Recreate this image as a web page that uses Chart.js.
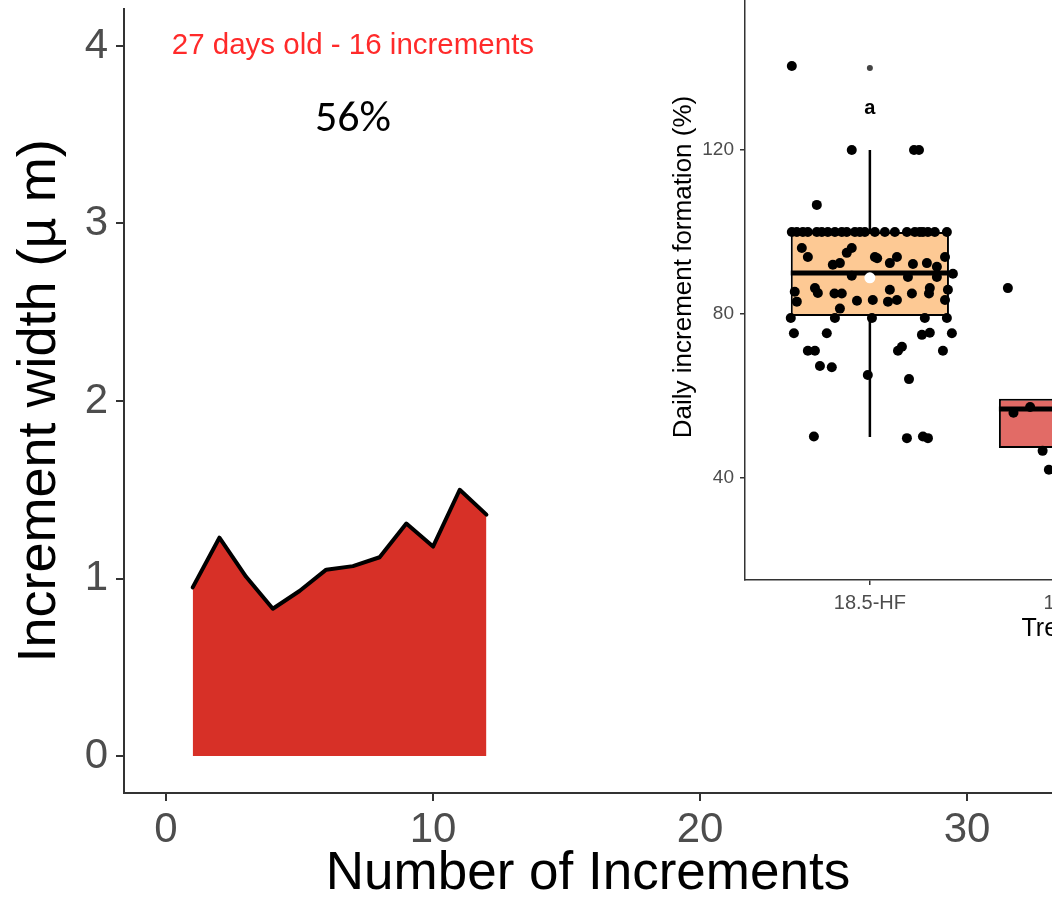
<!DOCTYPE html>
<html>
<head>
<meta charset="utf-8">
<script src="https://cdn.jsdelivr.net/npm/chart.js@4.4.1/dist/chart.umd.min.js"></script>
<style>
  html, body { margin: 0; padding: 0; overflow: hidden; background: #fff; }
  #stage { position: relative; width: 1052px; height: 901px; overflow: hidden; background: #fff; }
  #main { position: absolute; left: 0; top: 0; }
  #inset { position: absolute; left: 620px; top: -60px; }
</style>
</head>
<body>
<div id="stage">
  <canvas id="main" width="1052" height="901"></canvas>
  <canvas id="inset" width="840" height="720"></canvas>
</div>
<script>
// ---- Increment width profile ----
const increments = [1, 2, 3, 4, 5, 6, 7, 8, 9, 10, 11, 12];
const incrementWidth = [0.95, 1.23, 1.01, 0.83, 0.93, 1.05, 1.07, 1.12, 1.31, 1.18, 1.50, 1.36];
const mainXTicks = [0, 10, 20, 30];
const mainYTicks = [0, 1, 2, 3, 4];
const noteTexts = ['27 days old - 16 increments', '56%'];
const noteX = [7, 7];
const noteY = [4, 3.58];

// ---- Daily increment formation by treatment ----
const treatments = ['18.5-HF', '18.5-LF'];
const treatmentLevels = 3;
const boxQ1 = [79.5, 47.3];
const boxMedian = [90, 56.8];
const boxQ3 = [100, 59.3];
const whiskerLow = [50, 42];
const whiskerHigh = [120, 59.3];
const boxMean = [88.8, null];
const outlierValues = [[140], []];
const insetYTicks = [40, 80, 120, 160];
const groupLetters = ['a'];
const letterY = [130];

const hfX = [0.625, 0.913, 1.212, 1.236, 0.745,
  0.625, 0.649, 0.678, 0.702, 0.745, 0.769, 0.798, 0.832, 0.865, 0.889, 0.928, 0.952,
  0.976, 1.024, 1.072, 1.12, 1.178, 1.216, 1.24, 1.255, 1.279, 1.312, 1.37,
  0.673, 0.702, 0.822, 0.856, 0.889, 0.913, 1.024, 1.035, 1.096, 1.13, 1.207, 1.274, 1.322, 1.361,
  0.913, 1.183, 1.322, 1.399,
  0.639, 0.649, 0.736, 0.75, 0.83, 0.865, 0.938, 1.014, 1.096, 1.13, 1.087, 1.202, 1.284, 1.288, 1.375, 1.361, 0.856,
  0.62, 0.832, 1.01, 1.264, 1.37,
  0.635, 0.793, 0.702, 0.736, 0.76, 0.817, 0.99, 1.135, 1.154, 1.25, 1.288, 1.394, 1.351, 1.188,
  0.731, 1.178, 1.255, 1.279];
const hfY = [140.5, 120, 120, 120, 106.6,
  100, 100, 100, 100, 100, 100, 100, 100, 100, 100, 100, 100,
  100, 100, 100, 100, 100, 100, 100, 100, 100, 100, 100,
  96.1, 93.9, 92, 92.4, 94.9, 96.1, 93.9, 93.6, 92.4, 93.9, 92.2, 92.4, 91.5, 93.9,
  89.3, 89, 89, 89.8,
  85.4, 83, 86.3, 85.1, 85, 85, 83.2, 83.4, 85.9, 83.4, 83, 85, 85, 86.3, 85.9, 83.4, 81.3,
  79, 79, 79, 79, 79,
  75.3, 75.3, 71, 71, 67.3, 67, 65.1, 71, 72, 74.9, 75.4, 75.3, 71, 64.1,
  50.1, 49.7, 50.1, 49.7];
const lfX = [1.663, 1.69, 1.77, 1.83, 1.86];
const lfY = [86.3, 55.9, 57.3, 46.6, 42];

// ---- styling ----
const SANS = "'Liberation Sans', Arial, Helvetica, sans-serif";
const AXIS = '#333333';
const TICK_TEXT = '#4D4D4D';
const AREA_RED = '#D73027';
const BOX_FILLS = ['rgb(253,201,148)', 'rgb(226,107,102)'];
const BOX_HALF = 0.38;

function fixScale(size, dim) {
  return s => {
    s[dim] = size;
    s.paddingTop = s.paddingBottom = s.paddingLeft = s.paddingRight = 0;
  };
}
function setTicks(values) {
  return s => { s.ticks = values.map(v => ({ value: v })); };
}
function textPlugin(id, items) {
  return {
    id,
    afterDatasetsDraw(chart) {
      const { ctx, scales: { x, y } } = chart;
      items.forEach(it => {
        ctx.save();
        ctx.font = it.font;
        ctx.fillStyle = it.color;
        ctx.textAlign = 'center';
        ctx.textBaseline = 'middle';
        ctx.fillText(it.text, x.getPixelForValue(it.x), y.getPixelForValue(it.y));
        ctx.restore();
      });
    }
  };
}

// ---- main area chart ----
const noteStyles = [
  { font: `29.5px ${SANS}`, color: '#FF2A2A' },
  { font: "44px Carlito, Lato, sans-serif", color: '#000000' }
];
new Chart(document.getElementById('main'), {
  type: 'line',
  data: {
    datasets: [{
      data: increments.map((n, i) => ({ x: n, y: incrementWidth[i] })),
      borderColor: '#000000',
      borderWidth: 4,
      borderJoinStyle: 'round',
      borderCapStyle: 'round',
      backgroundColor: AREA_RED,
      fill: 'origin',
      pointRadius: 0,
      tension: 0
    }]
  },
  options: {
    responsive: false,
    animation: false,
    devicePixelRatio: 1,
    layout: { padding: { top: 9, right: 0, bottom: 0, left: 0 } },
    plugins: { legend: { display: false }, tooltip: { enabled: false } },
    scales: {
      x: {
        type: 'linear', min: -1.573, max: 33.18,
        afterBuildTicks: setTicks(mainXTicks),
        afterFit: fixScale(108, 'height'),
        grid: { drawOnChartArea: false, tickLength: 8, color: AXIS, lineWidth: 2 },
        border: { display: true, color: AXIS, width: 2 },
        ticks: { font: { family: SANS, size: 42 }, color: TICK_TEXT, padding: 4, maxRotation: 0, autoSkip: false, callback: v => String(v) },
        title: { display: true, text: 'Number of Increments', color: '#000000', font: { family: SANS, size: 53, lineHeight: 1 }, padding: { top: 0, bottom: 0 } }
      },
      y: {
        type: 'linear', min: -0.208, max: 4.208,
        afterBuildTicks: setTicks(mainYTicks),
        afterFit: fixScale(124, 'width'),
        grid: { drawOnChartArea: false, tickLength: 8, color: AXIS, lineWidth: 2 },
        border: { display: true, color: AXIS, width: 2 },
        ticks: { font: { family: SANS, size: 42 }, color: TICK_TEXT, padding: 8, autoSkip: false, callback: v => String(v) },
        title: { display: true, text: 'Increment width (µ m)', color: '#000000', font: { family: SANS, size: 54, lineHeight: 1 }, padding: { top: 13, bottom: 0 } }
      }
    }
  },
  plugins: [textPlugin('mainNotes', noteTexts.map((t, i) => ({ text: t, x: noteX[i], y: noteY[i], font: noteStyles[i].font, color: noteStyles[i].color })))]
});

// ---- inset box plot ----
const insetDatasets = [];
treatments.forEach((t, i) => {
  insetDatasets.push({
    type: 'line',
    data: [{ x: i + 1, y: whiskerLow[i] }, { x: i + 1, y: whiskerHigh[i] }],
    borderColor: '#000000', borderWidth: 2.5, pointRadius: 0, order: 6
  });
});
insetDatasets.push({
  type: 'bar',
  data: treatments.map((t, i) => ({ x: i + 1, y: [boxQ1[i], boxQ3[i]] })),
  backgroundColor: BOX_FILLS,
  borderColor: '#000000',
  borderWidth: 2,
  borderSkipped: false,
  categoryPercentage: 1,
  barPercentage: BOX_HALF * 2,
  order: 5
});
treatments.forEach((t, i) => {
  insetDatasets.push({
    type: 'line',
    data: [{ x: i + 1 - BOX_HALF, y: boxMedian[i] }, { x: i + 1 + BOX_HALF, y: boxMedian[i] }],
    borderColor: '#000000', borderWidth: 5, borderCapStyle: 'butt', pointRadius: 0, order: 4
  });
});
insetDatasets.push({
  type: 'scatter',
  data: outlierValues.flatMap((vals, i) => vals.map(v => ({ x: i + 1, y: v }))),
  pointRadius: 3, backgroundColor: '#444444', borderWidth: 0, order: 3
});
insetDatasets.push({
  type: 'scatter',
  data: hfX.map((x, i) => ({ x, y: hfY[i] })).concat(lfX.map((x, i) => ({ x, y: lfY[i] }))),
  pointRadius: 5, backgroundColor: '#000000', borderWidth: 0, order: 2
});
insetDatasets.push({
  type: 'scatter',
  data: boxMean.map((m, i) => (m === null ? null : { x: i + 1, y: m })).filter(p => p),
  pointRadius: 5.5, backgroundColor: '#FFFFFF', borderWidth: 0, order: 1
});

new Chart(document.getElementById('inset'), {
  type: 'bar',
  data: { datasets: insetDatasets },
  options: {
    responsive: false,
    animation: false,
    devicePixelRatio: 1,
    layout: { padding: { top: 14, right: 49, bottom: 0, left: 0 } },
    plugins: { legend: { display: false }, tooltip: { enabled: false } },
    scales: {
      x: {
        type: 'linear', min: 0.4, max: treatmentLevels + 0.6,
        offset: false,
        afterBuildTicks: setTicks(treatments.map((t, i) => i + 1)),
        afterFit: fixScale(80, 'height'),
        grid: { offset: false, drawOnChartArea: false, tickLength: 5, color: AXIS, lineWidth: 1.5 },
        border: { display: true, color: AXIS, width: 1.5 },
        ticks: { font: { family: SANS, size: 20 }, color: TICK_TEXT, padding: 6, maxRotation: 0, autoSkip: false, callback: v => treatments[v - 1] || '' },
        title: { display: true, text: 'Treatment', color: '#000000', font: { family: SANS, size: 25, lineHeight: 1 }, padding: { top: 0, bottom: 18 } }
      },
      y: {
        type: 'linear', min: 15.1, max: 167.8,
        afterBuildTicks: setTicks(insetYTicks),
        afterFit: fixScale(125, 'width'),
        grid: { drawOnChartArea: false, tickLength: 5, color: AXIS, lineWidth: 1.5 },
        border: { display: true, color: AXIS, width: 1.5 },
        ticks: { font: { family: SANS, size: 19 }, color: TICK_TEXT, padding: 6, autoSkip: false, callback: v => String(v) },
        title: { display: true, text: 'Daily increment formation (%)', color: '#000000', font: { family: SANS, size: 26, lineHeight: 1 }, padding: { top: 51, bottom: 0 } }
      }
    }
  },
  plugins: [textPlugin('groupLetters', groupLetters.map((t, i) => ({ text: t, x: i + 1, y: letterY[i], font: `bold 20px ${SANS}`, color: '#000000' })))]
});
</script>
</body>
</html>
